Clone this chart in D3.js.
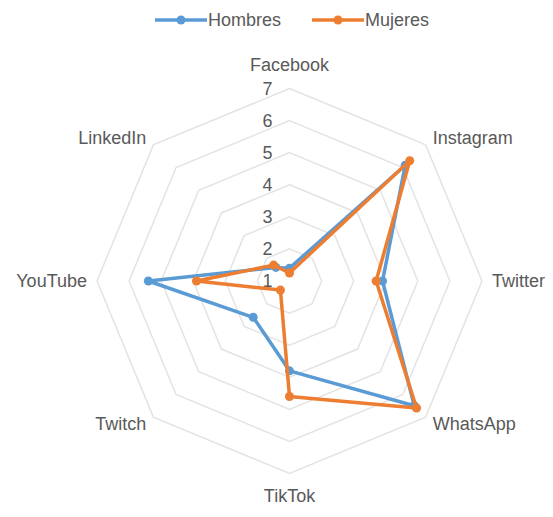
<!DOCTYPE html>
<html>
<head>
<meta charset="utf-8">
<script src="https://cdn.jsdelivr.net/npm/d3@7"></script>
<style>
body { margin: 0; background: #fff; }
text { font-family: "Liberation Sans", Arial, sans-serif; fill: #595959; }
</style>
</head>
<body>
<svg width="553" height="517"></svg>
<script>
var categories = ["Facebook", "Instagram", "Twitter", "WhatsApp", "TikTok", "Twitch", "YouTube", "LinkedIn"];
var hombres = [1.4, 6.1, 3.9, 6.5, 3.8, 2.6, 5.4, 1.6];
var mujeres = [1.25, 6.3, 3.7, 6.6, 4.6, 1.4, 3.9, 1.7];
var ticks = [1, 2, 3, 4, 5, 6, 7];
var seriesNames = ["Hombres", "Mujeres"];
var colors = ["#5b9bd5", "#ed7d31"];

var svg = d3.select("svg");
var cx = 289.5, cy = 281, R = 192.5;

// radio: valor 1 en el centro, 7 en el borde
var r = d3.scaleLinear().domain([1, 7]).range([0, R]);
var step = 2 * Math.PI / categories.length;
function pt(i, v) {
	var a = i * step;
	return [cx + r(v) * Math.sin(a), cy - r(v) * Math.cos(a)];
}

// anillos
var g = svg.append("g");
ticks.slice(1).forEach(function(t) {
	var pts = categories.map(function(c, i) { return pt(i, t); });
	g.append("polygon")
		.attr("points", pts.map(function(p) { return p.join(","); }).join(" "))
		.attr("fill", "none")
		.attr("stroke", "#e3e3e3")
		.attr("stroke-width", 1.5);
});

// etiquetas de escala
g.selectAll(".tick")
	.data(ticks)
	.enter().append("text")
	.attr("class", "tick")
	.attr("x", cx - 17)
	.attr("y", function(d) { return cy - r(d); })
	.attr("dy", "0.35em")
	.attr("text-anchor", "end")
	.style("font-size", "18px")
	.text(function(d) { return d; });

// categorias
var labelPad = 10;
categories.forEach(function(c, i) {
	var a = i * step;
	var sx = Math.sin(a), sy = -Math.cos(a);
	var x = cx + (R + labelPad) * sx, y = cy + (R + labelPad) * sy;
	var anchor = Math.abs(sx) < 0.01 ? "middle" : (sx > 0 ? "start" : "end");
	var dy = "0.35em";
	if (Math.abs(sx) < 0.01) {
		dy = sy < 0 ? "-0.4em" : "1.0em";
	}
	g.append("text")
		.attr("x", x)
		.attr("y", y)
		.attr("dy", dy)
		.attr("text-anchor", anchor)
		.style("font-size", "18px")
		.text(c);
});

// series
var line = d3.line().curve(d3.curveLinearClosed);
[hombres, mujeres].forEach(function(vals, s) {
	var pts = vals.map(function(v, i) { return pt(i, v); });
	svg.append("path")
		.attr("d", line(pts))
		.attr("fill", "none")
		.attr("stroke", colors[s])
		.attr("stroke-width", 3.5)
		.attr("stroke-linejoin", "round");
	svg.selectAll(".dot" + s)
		.data(pts)
		.enter().append("circle")
		.attr("cx", function(d) { return d[0]; })
		.attr("cy", function(d) { return d[1]; })
		.attr("r", 4.5)
		.attr("fill", colors[s]);
});

// leyenda
var legend = svg.append("g");
var lx = [155, 312];
seriesNames.forEach(function(n, i) {
	var lg = legend.append("g").attr("transform", "translate(" + lx[i] + ",20)");
	lg.append("line").attr("x1", 0).attr("x2", 52).attr("y1", 0).attr("y2", 0)
		.attr("stroke", colors[i]).attr("stroke-width", 3.5);
	lg.append("circle").attr("cx", 26).attr("cy", 0).attr("r", 4.5).attr("fill", colors[i]);
	lg.append("text").attr("x", 53).attr("y", 0).attr("dy", "0.35em")
		.style("font-size", "18px").text(n);
});
</script>
</body>
</html>
